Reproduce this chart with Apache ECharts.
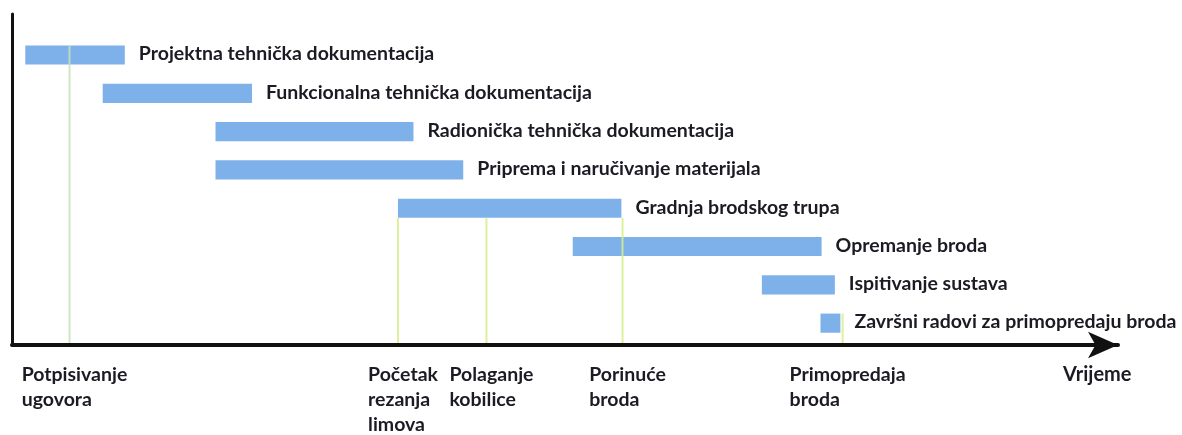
<!DOCTYPE html>
<html>
<head>
<meta charset="utf-8">
<title>Faze gradnje broda</title>
<script src="https://cdn.jsdelivr.net/npm/echarts@6/dist/echarts.min.js"></script>
<style>
  html, body { margin: 0; padding: 0; background: #fff; }
  #chart { width: 1182px; height: 435px; }
</style>
</head>
<body>
<div id="chart"></div>
<script>
// aktivnosti (vrijeme u proizvoljnim jedinicama, os 0-100)
const tasks = [
  'Projektna tehnička dokumentacija',
  'Funkcionalna tehnička dokumentacija',
  'Radionička tehnička dokumentacija',
  'Priprema i naručivanje materijala',
  'Gradnja brodskog trupa',
  'Opremanje broda',
  'Ispitivanje sustava',
  'Završni radovi za primopredaju broda'
]
const taskStart = [1.2, 8.2, 18.4, 18.4, 34.9, 50.7, 67.8, 73.1]
const taskEnd = [10.2, 21.7, 36.3, 40.8, 55.1, 73.2, 74.4, 74.9]

// ključni događaji
const milestones = [
  'Potpisivanje\nugovora',
  'Početak\nrezanja\nlimova',
  'Polaganje\nkobilice',
  'Porinuće\nbroda',
  'Primopredaja\nbroda'
]
const milestoneAt = [5.2, 34.9, 42.9, 55.2, 75.1]
// red (na osi aktivnosti) od kojeg kreće okomita crta
const milestoneFrom = [-0.25, 4.25, 4.25, 4.25, 6.75]

const textColor = '#1b1b24'
const fontFamily = 'Lato, "Open Sans", sans-serif'
const fontSize = 19.5
const lineColors = ['#c8e2b8', '#d6ee8c', '#d6ee8c', '#d6ee8c', '#d6ee8c']

const measureCtx = document.createElement('canvas').getContext('2d')
measureCtx.font = 'bold ' + fontSize + 'px ' + fontFamily
function blockWidth(str) {
  return Math.max(...str.split('\n').map(s => measureCtx.measureText(s).width))
}

const chart = echarts.init(document.getElementById('chart'))

chart.setOption({
  animation: false,
  grid: { left: 12, right: 64, top: 14, bottom: 90 },
  xAxis: {
    type: 'value',
    min: 0,
    max: 100,
    axisLine: {
      show: true,
      onZero: false,
      symbol: ['none', 'arrow'],
      symbolSize: [20, 30],
      lineStyle: { color: '#111', width: 4 }
    },
    axisTick: { show: false },
    axisLabel: { show: false },
    splitLine: { show: false },
    name: 'Vrijeme',
    nameLocation: 'end',
    nameGap: -55,
    nameTextStyle: {
      color: textColor,
      fontFamily: fontFamily,
      fontWeight: 'bold',
      fontSize: 20,
      verticalAlign: 'top',
      padding: [20, 0, 0, 0]
    }
  },
  yAxis: {
    type: 'value',
    inverse: true,
    min: -1.07,
    max: 7.57,
    axisLine: {
      show: true,
      onZero: false,
      lineStyle: { color: '#111', width: 3 }
    },
    axisTick: { show: false },
    axisLabel: { show: false },
    splitLine: { show: false }
  },
  series: [
    {
      type: 'custom',
      clip: false,
      z: 2,
      encode: { x: [1, 2], y: 0 },
      data: tasks.map((t, i) => [i, taskStart[i], taskEnd[i]]),
      renderItem(params, api) {
        const row = api.value(0)
        const s = api.coord([api.value(1), row])
        const e = api.coord([api.value(2), row])
        const h = api.size([0, 1])[1] * 0.5
        return {
          type: 'group',
          children: [
            {
              type: 'rect',
              shape: { x: s[0], y: s[1] - h / 2, width: e[0] - s[0], height: h },
              style: { fill: '#7eb1ea' }
            },
            {
              type: 'text',
              style: {
                text: tasks[params.dataIndex],
                x: e[0] + 14,
                y: s[1] - 1,
                verticalAlign: 'middle',
                fill: textColor,
                fontFamily: fontFamily,
                fontWeight: 'bold',
                fontSize: fontSize
              }
            }
          ]
        }
      }
    },
    {
      type: 'custom',
      clip: false,
      z: 3,
      encode: { x: 0, y: 1 },
      data: milestoneAt.map((x, i) => [x, milestoneFrom[i]]),
      renderItem(params, api) {
        const top = api.coord([api.value(0), api.value(1)])
        const bottom = params.coordSys.y + params.coordSys.height
        const label = milestones[params.dataIndex]
        return {
          type: 'group',
          children: [
            {
              type: 'line',
              shape: { x1: top[0], y1: top[1], x2: top[0], y2: bottom - 2 },
              style: { stroke: lineColors[params.dataIndex], lineWidth: 2, opacity: 0.85 }
            },
            {
              type: 'text',
              style: {
                text: label,
                x: top[0] + 5 - blockWidth(label) / 2,
                y: bottom + 17,
                verticalAlign: 'top',
                lineHeight: 25,
                fill: textColor,
                fontFamily: fontFamily,
                fontWeight: 'bold',
                fontSize: fontSize
              }
            }
          ]
        }
      }
    }
  ]
})
</script>
</body>
</html>
